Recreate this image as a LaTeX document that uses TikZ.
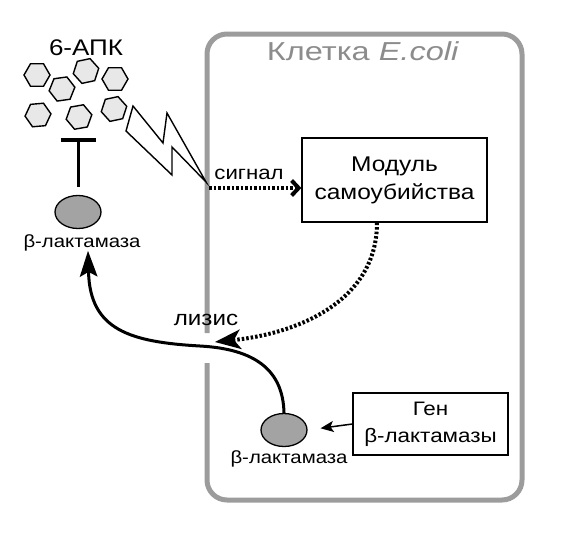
\documentclass[tikz,border=0pt]{standalone}
\usepackage{fontspec}
\setmainfont{Liberation Sans}[FakeStretch=1.15]
\newfontfamily\titlefont{Liberation Sans}[FakeStretch=1.25]
\usetikzlibrary{arrows.meta,shapes.geometric}
\definecolor{cellgray}{HTML}{9C9C9C}
\definecolor{titlegray}{HTML}{8C8C8C}
\definecolor{enzgray}{HTML}{A3A3A3}
\definecolor{hexgray}{HTML}{E8E8E8}
\tikzset{
  cellline/.style={draw=cellgray, line width=5pt, rounded corners=20pt},
  boxnode/.style={draw=black, line width=1.3pt, align=center, inner sep=0pt},
  enzyme/.style={ellipse, draw=black, line width=1.3pt, fill=enzgray, minimum width=46pt, minimum height=33pt, inner sep=0pt},
  hexnode/.style={regular polygon, regular polygon sides=6, draw=black, line width=1.4pt, fill=hexgray, minimum size=26pt, inner sep=0pt},
  lbl/.style={font=\fontsize{17.7}{21}\selectfont, inner sep=0pt},
  dotline/.style={line width=4pt, dash pattern=on 2.5pt off 2pt},
}
\begin{document}
\begin{tikzpicture}[x=1pt,y=-1pt]
\useasboundingbox (0,0) rectangle (561,533);
% cell border with a gap where the lysis curve leaves
\draw[cellline] (207,333) -- (207,34) -- (522,34) -- (522,500) -- (207,500) -- (207,363);
\node[text=titlegray, font=\titlefont\fontsize{26}{30}\selectfont, inner sep=0pt] (title) at (363,51) {Клетка \textit{E.coli}};

% module box
\node[boxnode, minimum width=185pt, minimum height=84pt, font=\fontsize{21.3}{28}\selectfont] (module) at (394.5,180) {Модуль\\самоубийства};
% gene box
\node[boxnode, minimum width=155pt, minimum height=62pt, font=\fontsize{19.5}{27}\selectfont] (gene) at (430.5,424) {Ген\\β-лактамазы};

% enzymes
\node[enzyme] (enzin) at (284,430) {};
\node[lbl, anchor=north] (enzinlbl) at (289,450) {β-лактамаза};
\node[enzyme] (enzout) at (78,212) {};
\node[lbl, anchor=north] (enzoutlbl) at (82,234) {β-лактамаза};

% 6-APK
\node[font=\fontsize{22.6}{26}\selectfont, inner sep=0pt] (apk) at (86,48) {6-АПК};
\node[hexnode, rotate=0] (h1) at (37,75) {};
\node[hexnode, rotate=12] (h2) at (86,71) {};
\node[hexnode, rotate=8] (h3) at (62,89) {};
\node[hexnode, rotate=0] (h4) at (115,79) {};
\node[hexnode, rotate=5] (h5) at (38,115) {};
\node[hexnode, rotate=10] (h6) at (79,117) {};
\node[hexnode, rotate=12] (h7) at (114,109) {};

% inhibition
\coordinate (bar) at (78,138);
\draw[line width=3pt, shorten <=8pt, -{Bar[width=35pt, line width=3.5pt]}] (enzout.north) -- (bar);

% lightning bolt
\coordinate (bolttip) at (206,182);
\draw[line width=1.4pt, fill=white, line join=miter]
  (133,106) -- (163,143) -- (167,113) -- (bolttip) -- (172,147) -- (172,175) -- (126,131) -- cycle;

% signal arrow
\coordinate (sigstart) at (209,188);
\draw[dotline, -{Straight Barb[length=7pt, width=15pt, line width=4pt]}] (sigstart) -- (module.west |- sigstart);
\node[font=\fontsize{19.3}{22}\selectfont, inner sep=0pt] (siglbl) at (249,174) {сигнал};

% lysis dotted arrow
\coordinate (lystip) at (215,342);
\draw[dotline, -{Stealth[length=26pt, width=20pt, inset=7pt, line width=0pt]}]
  (module.south -| 377,0) .. controls (377,300) and (300,333) .. (lystip);
\node[font=\fontsize{21}{24}\selectfont, inner sep=0pt] (lyslbl) at (206,320) {лизис};

% enzyme release curve
\draw[line width=3pt, -{Stealth[length=26pt, width=18pt, inset=5pt, line width=0pt]}]
  (enzin.north) .. controls (283,370) and (255,349) .. (200,346)
  .. controls (130,342) and (90,330) .. (enzoutlbl.south -| 88,0);

% gene -> enzyme
\draw[line width=1.5pt, shorten >=13pt, -{Stealth[length=13pt, width=11pt, inset=3pt]}] (gene.west) -- (enzin.east);
\end{tikzpicture}
\end{document}
